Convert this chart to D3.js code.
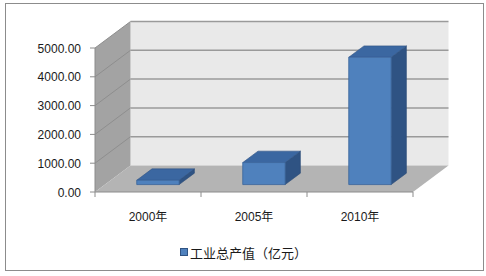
<!DOCTYPE html>
<html>
<head>
<meta charset="utf-8">
<script src="https://cdn.jsdelivr.net/npm/d3@7"></script>
<style>
  body { margin: 0; background: #fff; }
  text { font-family: "Liberation Sans", Arial, "Noto Sans CJK SC", sans-serif; fill: #1a1a1a; }
</style>
</head>
<body>
<svg id="chart" width="486" height="276"></svg>
<script>
// data
var categories = ["2000年", "2005年", "2010年"];
var values = [150, 765, 4420];
var yTicks = [0, 1000, 2000, 3000, 4000, 5000];
var seriesName = "工业总产值（亿元）";

var svg = d3.select("#chart");

// 3d depth offset of the plot box
var DX = 35.5, DY = 26.5;
var barFront = 0.28, barBack = 0.71;

var x = d3.scaleBand().domain(categories).range([95, 413]).paddingInner(0.6).paddingOuter(0.3);
var y = d3.scaleLinear().domain([0, 5000]).range([192, 48]);

function pt(px, py, d) { return [px + d * DX, py - d * DY]; }
function poly(pts) { return pts.map(function (p) { return p.join(","); }).join(" "); }

// outer border
svg.append("rect")
    .attr("x", 5.5).attr("y", 3.5)
    .attr("width", 478).attr("height", 267)
    .attr("fill", "#fff").attr("stroke", "#8c8c8c");

var x0 = 95, x1 = 413;

// back wall
svg.append("polygon")
    .attr("points", poly([pt(x0, y(5000), 1), pt(x1, y(5000), 1), pt(x1, y(0), 1), pt(x0, y(0), 1)]))
    .attr("fill", "#e9e9e9");

// left wall
svg.append("polygon")
    .attr("points", poly([pt(x0, y(5000), 0), pt(x0, y(5000), 1), pt(x0, y(0), 1), pt(x0, y(0), 0)]))
    .attr("fill", "#a3a3a3");

// floor
svg.append("polygon")
    .attr("points", poly([pt(x0, y(0), 0), pt(x1, y(0), 0), pt(x1, y(0), 1), pt(x0, y(0), 1)]))
    .attr("fill", "#b4b4b4");

// gridlines on back wall and left wall
yTicks.forEach(function (t) {
    if (t === 0) return;
    var a = pt(x0, y(t), 0), b = pt(x0, y(t), 1), c = pt(x1, y(t), 1);
    svg.append("line")
        .attr("x1", a[0]).attr("y1", a[1]).attr("x2", b[0]).attr("y2", b[1])
        .attr("stroke", "#8e8e8e").attr("stroke-width", 1);
    svg.append("line")
        .attr("x1", b[0]).attr("y1", b[1]).attr("x2", c[0]).attr("y2", c[1])
        .attr("stroke", "#9a9a9a").attr("stroke-width", 1.5);
});

// y axis
var yAxis = svg.append("g");
yAxis.append("line")
    .attr("x1", x0).attr("y1", y(5000)).attr("x2", x0).attr("y2", y(0))
    .attr("stroke", "#8c8c8c");
yTicks.forEach(function (t) {
    yAxis.append("line")
        .attr("x1", x0 - 5).attr("x2", x0).attr("y1", y(t)).attr("y2", y(t))
        .attr("stroke", "#8c8c8c");
    yAxis.append("text")
        .attr("x", 81).attr("y", y(t) + 4.5)
        .attr("text-anchor", "end")
        .attr("font-size", 12)
        .text(d3.format(".2f")(t));
});

// x axis
svg.append("line")
    .attr("x1", x0).attr("x2", x1).attr("y1", y(0)).attr("y2", y(0))
    .attr("stroke", "#8c8c8c");
var step = x.step();
for (var i = 0; i <= categories.length; i++) {
    svg.append("line")
        .attr("x1", x0 + i * step).attr("x2", x0 + i * step)
        .attr("y1", y(0)).attr("y2", y(0) + 5)
        .attr("stroke", "#8c8c8c");
}
categories.forEach(function (c) {
    svg.append("text")
        .attr("x", x(c) + x.bandwidth() / 2)
        .attr("y", 221)
        .attr("text-anchor", "middle")
        .attr("font-size", 12)
        .text(c);
});

// bars
categories.forEach(function (c, i) {
    var l = x(c), r = x(c) + x.bandwidth();
    var top = y(values[i]), bot = y(0);
    var g = svg.append("g");
    // right side
    g.append("polygon")
        .attr("points", poly([pt(r, top, barFront), pt(r, top, barBack), pt(r, bot, barBack), pt(r, bot, barFront)]))
        .attr("fill", "#2f5383").attr("stroke", "#2a4a76").attr("stroke-width", 0.6);
    // top
    g.append("polygon")
        .attr("points", poly([pt(l, top, barFront), pt(l, top, barBack), pt(r, top, barBack), pt(r, top, barFront)]))
        .attr("fill", "#3b67a1").attr("stroke", "#2f5383").attr("stroke-width", 0.6);
    // front
    g.append("polygon")
        .attr("points", poly([pt(l, top, barFront), pt(r, top, barFront), pt(r, bot, barFront), pt(l, bot, barFront)]))
        .attr("fill", "#4f81bd").attr("stroke", "#3a659c").attr("stroke-width", 0.8);
});

// legend
svg.append("rect")
    .attr("x", 180.5).attr("y", 248.5).attr("width", 7).attr("height", 7)
    .attr("fill", "#4f81bd").attr("stroke", "#2f5383");
svg.append("text")
    .attr("x", 190).attr("y", 257.5)
    .attr("font-size", 13)
    .style("font-family", "'Noto Sans CJK SC', sans-serif")
    .text(seriesName);
</script>
</body>
</html>
